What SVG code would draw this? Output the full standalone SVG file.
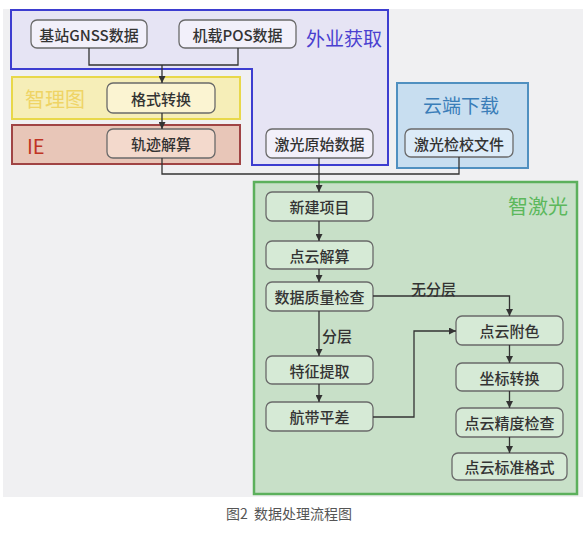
<svg xmlns="http://www.w3.org/2000/svg" width="588" height="546" viewBox="0 0 588 546">
<defs>
<marker id="ah" viewBox="0 0 10 10" refX="10" refY="5" markerWidth="7" markerHeight="7" markerUnits="userSpaceOnUse" orient="auto">
<path d="M0,0 L10,5 L0,10 z" fill="#333"/>
</marker>
</defs>
<style>
text{font-family:"Noto Sans CJK SC","Noto Sans",sans-serif}
.n{stroke:#6a6a6a;stroke-width:1.3}
.t{font-size:15px;font-weight:500;fill:#333;text-anchor:middle;dominant-baseline:central}
.c{fill:none;stroke:#333;stroke-width:1.3}
.a{marker-end:url(#ah)}
.g{fill:#d6ead6}
</style>
<rect x="3" y="9" width="580" height="488" fill="#f0f0f2"/>
<g id="waiye">
<path d="M11,10 H388 V165 H252 V69 H11 Z" fill="#e6e4f4" stroke="#3d3dd0" stroke-width="2"/>
<text x="306" y="37" font-size="19" fill="#4a3fd0" dominant-baseline="central">外业获取</text>
</g>
<g id="zhilitu">
<rect x="12" y="77" width="228" height="42" fill="#f6eeb8" stroke="#e8d84a" stroke-width="2"/>
<text x="25" y="98" font-size="20" fill="#efd465" dominant-baseline="central">智理图</text>
</g>
<g id="ie">
<rect x="12" y="125" width="228" height="39" fill="#e8c6b8" stroke="#a04444" stroke-width="2"/>
<text x="27" y="145" font-size="20" fill="#c03424" dominant-baseline="central">IE</text>
</g>
<g id="yunduan">
<rect x="397" y="83" width="131" height="85" fill="#c8def0" stroke="#5090c0" stroke-width="2"/>
<text x="461" y="104" font-size="19" fill="#3a7db8" text-anchor="middle" dominant-baseline="central">云端下载</text>
</g>
<g id="zhijiguang">
<rect x="254" y="182" width="323" height="312" fill="#c8e0c8" stroke="#5cb05c" stroke-width="2.5"/>
<text x="538" y="205" font-size="20" fill="#5cb85c" text-anchor="middle" dominant-baseline="central">智激光</text>
</g>
<g id="n_gnss"><rect class="n" x="31" y="20" width="116" height="28" rx="6" fill="#f2f0fa"/><text class="t" x="89" y="34">基站GNSS数据</text></g>
<g id="n_pos"><rect class="n" x="179" y="20" width="117" height="28" rx="6" fill="#f2f0fa"/><text class="t" x="237.5" y="34">机载POS数据</text></g>
<g id="n_geshi"><rect class="n" x="107" y="83" width="108" height="30" rx="6" fill="#fbf4d2"/><text class="t" x="161" y="98">格式转换</text></g>
<g id="n_guiji"><rect class="n" x="107" y="129" width="108" height="29" rx="6" fill="#f3d9cc"/><text class="t" x="161" y="143.5">轨迹解算</text></g>
<g id="n_jiguang"><rect class="n" x="266" y="129" width="107" height="29" rx="6" fill="#f2f0fa"/><text class="t" x="319.5" y="143.5">激光原始数据</text></g>
<g id="n_jianxiao"><rect class="n" x="405" y="129" width="108" height="28" rx="6" fill="#dcebf8"/><text class="t" x="459" y="143">激光检校文件</text></g>
<g id="n_xinjian"><rect class="n g" x="266" y="192" width="107" height="29" rx="6"/><text class="t" x="319.5" y="206.5">新建项目</text></g>
<g id="n_jiesuan"><rect class="n g" x="266" y="241" width="107" height="28" rx="6"/><text class="t" x="319.5" y="255">点云解算</text></g>
<g id="n_zhiliang"><rect class="n g" x="266" y="282" width="107" height="29" rx="6"/><text class="t" x="319.5" y="296.5">数据质量检查</text></g>
<g id="n_tezheng"><rect class="n g" x="266" y="356" width="107" height="28" rx="6"/><text class="t" x="319.5" y="370">特征提取</text></g>
<g id="n_hangdai"><rect class="n g" x="266" y="402" width="107" height="29" rx="6"/><text class="t" x="319.5" y="416.5">航带平差</text></g>
<g id="n_fuse"><rect class="n g" x="456" y="316" width="107" height="29" rx="6"/><text class="t" x="509.5" y="330.5">点云附色</text></g>
<g id="n_zuobiao"><rect class="n g" x="456" y="363" width="107" height="28" rx="6"/><text class="t" x="509.5" y="377">坐标转换</text></g>
<g id="n_jingdu"><rect class="n g" x="456" y="408" width="107" height="29" rx="6"/><text class="t" x="509.5" y="422.5">点云精度检查</text></g>
<g id="n_biaozhun"><rect class="n g" x="452" y="453" width="115" height="27" rx="6"/><text class="t" x="509.5" y="466.5">点云标准格式</text></g>
<g id="connectors">
<path class="c" d="M89,48 V65 H238 V48"/>
<path class="c a" d="M162,65 V83"/>
<path class="c a" d="M162,113 V129"/>
<path class="c" d="M162,158 V174 H459 V157"/>
<path class="c a" d="M319,158 V192"/>
<path class="c a" d="M319,221 V241"/>
<path class="c a" d="M319,269 V282"/>
<path class="c a" d="M319,311 V356"/>
<path class="c a" d="M319,384 V402"/>
<path class="c a" d="M373,296 H509.5 V316"/>
<path class="c a" d="M373,417 H414 V331 H456"/>
<path class="c a" d="M509.5,345 V363"/>
<path class="c a" d="M509.5,391 V408"/>
<path class="c a" d="M509.5,437 V453"/>
<text x="411" y="288" font-size="15" font-weight="500" fill="#333" dominant-baseline="central">无分层</text>
<text x="322" y="335" font-size="15" font-weight="500" fill="#333" dominant-baseline="central">分层</text>
</g>
<text x="226" y="513" font-size="14" fill="#555" dominant-baseline="central" style="white-space:pre">图2  数据处理流程图</text>
</svg>
